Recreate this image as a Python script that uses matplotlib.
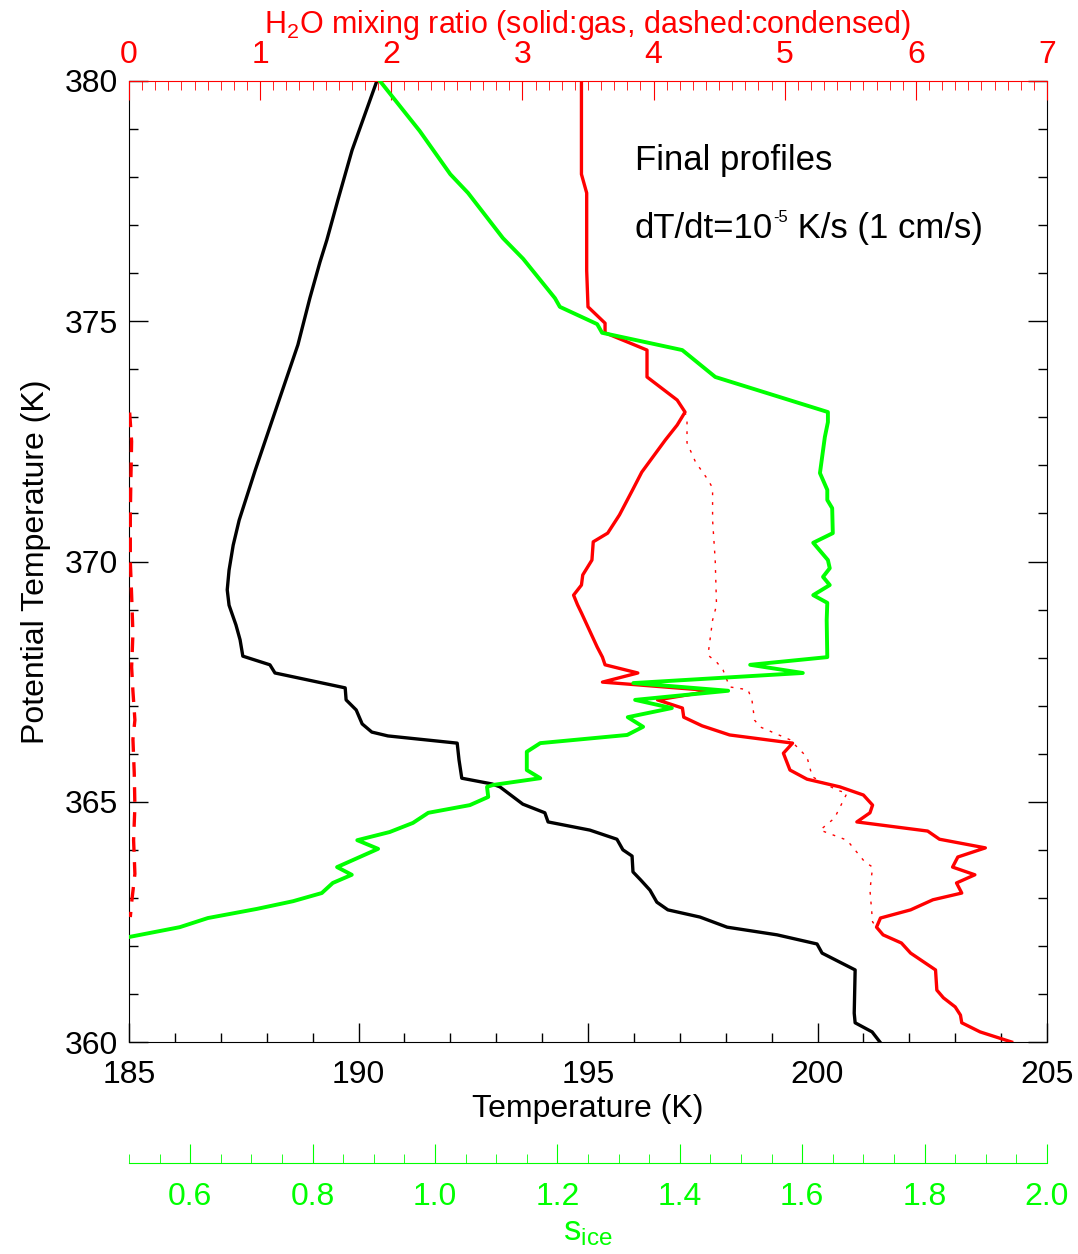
import matplotlib
matplotlib.use("Agg")
import matplotlib.pyplot as plt
from matplotlib.ticker import MultipleLocator

plt.rcParams['font.family'] = ['Liberation Sans', 'DejaVu Sans']
plt.rcParams['mathtext.fontset'] = 'custom'
plt.rcParams['mathtext.rm'] = 'Liberation Sans'
plt.rcParams['mathtext.it'] = 'Liberation Sans:italic'

# temperature profile (bottom axis, K)
temp_theta = [380.00, 379.60, 378.56, 377.52, 376.69, 376.23, 375.48, 374.51, 372.94, 371.90,
              370.86, 370.34, 369.82, 369.41, 369.09, 368.68, 368.37, 368.03, 367.85, 367.68,
              367.37, 367.12, 366.91, 366.62, 366.45, 366.37, 366.22, 365.87, 365.49, 365.37,
              365.31, 364.95, 364.77, 364.58, 364.41, 364.22, 364.00, 363.87, 363.54, 363.37,
              363.16, 362.91, 362.75, 362.60, 362.39, 362.23, 362.04, 361.85, 361.66, 361.50,
              360.60, 360.40, 360.21, 360.00]
temp_K = [190.40, 190.25, 189.86, 189.55, 189.31, 189.16, 188.94, 188.68, 188.12, 187.75,
          187.40, 187.27, 187.18, 187.14, 187.18, 187.33, 187.42, 187.48, 188.07, 188.18,
          189.71, 189.73, 189.95, 190.08, 190.29, 190.64, 192.15, 192.19, 192.25, 192.91,
          193.08, 193.58, 194.06, 194.13, 195.04, 195.63, 195.76, 195.96, 195.98, 196.15,
          196.35, 196.50, 196.74, 197.44, 198.03, 199.12, 199.99, 200.10, 200.49, 200.82,
          200.80, 200.82, 201.19, 201.36]

# H2O gas mixing ratio (top axis)
gas_theta = [380.00, 378.06, 377.67, 376.05, 375.30, 374.96, 374.76, 374.40, 373.84, 373.36,
             373.11, 372.84, 372.53, 371.86, 371.49, 370.97, 370.59, 370.41, 370.03, 369.72,
             369.51, 369.30, 369.10, 368.93, 368.22, 368.01, 367.85, 367.68, 367.49, 367.31,
             367.12, 366.95, 366.76, 366.58, 366.39, 366.22, 366.01, 365.66, 365.47, 365.31,
             365.14, 364.93, 364.77, 364.58, 364.39, 364.22, 364.04, 363.85, 363.64, 363.48,
             363.31, 363.10, 362.96, 362.75, 362.58, 362.39, 362.23, 362.06, 361.85, 361.50,
             361.08, 360.92, 360.73, 360.56, 360.40, 360.21, 360.00]
gas_w = [3.45, 3.45, 3.49, 3.49, 3.50, 3.63, 3.63, 3.95, 3.95, 4.18,
         4.24, 4.18, 4.09, 3.91, 3.84, 3.74, 3.65, 3.54, 3.53, 3.46,
         3.45, 3.39, 3.42, 3.45, 3.57, 3.61, 3.63, 3.88, 3.61, 4.45,
         4.03, 4.22, 4.23, 4.37, 4.58, 5.06, 4.99, 5.04, 5.17, 5.42,
         5.60, 5.67, 5.65, 5.55, 6.09, 6.18, 6.53, 6.32, 6.28, 6.45,
         6.31, 6.35, 6.13, 5.96, 5.73, 5.70, 5.75, 5.89, 5.96, 6.15,
         6.16, 6.21, 6.30, 6.34, 6.35, 6.49, 6.73]

# dotted red line
total_theta = [373.11, 372.94, 372.47, 372.07, 371.70, 371.53, 370.86, 370.03, 369.09, 368.78,
               368.05, 367.91, 367.74, 367.39, 367.33, 367.12, 366.70, 366.56, 366.29, 365.93,
               365.52, 365.24, 365.18, 364.66, 364.41, 364.20, 363.75, 363.64, 363.16, 362.50,
               362.39]
total_w = [4.24, 4.255, 4.255, 4.32, 4.415, 4.45, 4.45, 4.47, 4.48, 4.45,
           4.415, 4.48, 4.53, 4.58, 4.72, 4.75, 4.77, 4.81, 5.04, 5.17,
           5.21, 5.40, 5.475, 5.38, 5.27, 5.475, 5.61, 5.67, 5.65, 5.67,
           5.70]

# condensed water (dashed)
cond_theta = [373.1, 372.5, 371.8, 371.0, 370.0, 369.3, 368.5, 367.8, 367.3, 366.7,
              366.3, 365.6, 364.9, 364.2, 363.5, 362.9, 362.6]
cond_w = [0.005, 0.02, 0.015, 0.01, 0.01, 0.02, 0.03, 0.02, 0.03, 0.045,
          0.03, 0.04, 0.045, 0.035, 0.045, 0.02, 0.01]

# ice saturation ratio (green axis)
sice_theta = [380.00, 378.96, 378.06, 377.67, 376.73, 376.30, 375.48, 375.30, 374.94, 374.76,
              374.40, 373.84, 373.11, 372.90, 372.59, 371.84, 371.49, 371.28, 371.11, 370.59,
              370.39, 370.03, 369.86, 369.68, 369.51, 369.30, 369.14, 368.78, 368.01, 367.85,
              367.68, 367.47, 367.31, 367.12, 366.95, 366.76, 366.56, 366.39, 366.22, 366.04,
              365.66, 365.49, 365.35, 365.31, 365.10, 364.93, 364.77, 364.56, 364.37, 364.20,
              364.02, 363.64, 363.48, 363.31, 363.10, 362.93, 362.77, 362.58, 362.39, 362.19]
sice = [0.910, 0.975, 1.025, 1.054, 1.111, 1.144, 1.196, 1.204, 1.265, 1.273,
        1.404, 1.458, 1.642, 1.642, 1.637, 1.629, 1.641, 1.641, 1.649, 1.650,
        1.618, 1.642, 1.645, 1.634, 1.645, 1.618, 1.641, 1.640, 1.641, 1.515,
        1.601, 1.324, 1.479, 1.327, 1.387, 1.315, 1.340, 1.314, 1.172, 1.150,
        1.150, 1.172, 1.095, 1.085, 1.087, 1.057, 0.989, 0.964, 0.926, 0.873,
        0.907, 0.840, 0.864, 0.833, 0.815, 0.768, 0.709, 0.629, 0.583, 0.502]

FS = 23
RED = '#ff0000'
GREEN = '#00ff00'

fig = plt.figure(figsize=(10.78, 12.54), dpi=100)
ax = fig.add_axes([129 / 1078, 1 - 1042 / 1254, 918 / 1078, 961 / 1254])

ax.plot(temp_K, temp_theta, color='black', lw=2.4)
ax.set_xlim(185, 205)
ax.set_ylim(360, 380)
ax.xaxis.set_major_locator(MultipleLocator(5))
ax.xaxis.set_minor_locator(MultipleLocator(1))
ax.yaxis.set_major_locator(MultipleLocator(5))
ax.yaxis.set_minor_locator(MultipleLocator(1))
ax.tick_params(which='both', direction='in', top=False, right=True, labelsize=FS, width=1)
ax.tick_params(which='major', length=13.5)
ax.tick_params(which='minor', length=6.8)
ax.tick_params(axis='x', pad=13)
ax.tick_params(axis='y', pad=8)
ax.spines['top'].set_visible(False)
ax.set_xlabel('Temperature (K)', fontsize=FS, labelpad=3)
ax.set_ylabel('Potential Temperature (K)', fontsize=FS, labelpad=10)

# annotation, with a small IDL-like superscript
ax.text(0.551, 0.907, 'Final profiles', transform=ax.transAxes, fontsize=25, va='baseline')
t1 = ax.text(0.551, 0.829, 'dT/dt=10', transform=ax.transAxes, fontsize=25, va='bottom')
t2 = ax.annotate('-5', xy=(1, 0.62), xycoords=t1, fontsize=12, va='bottom', ha='left')
ax.annotate(' K/s (1 cm/s)', xy=(1, 0), xycoords=(t2, t1), fontsize=25, va='bottom', ha='left')

# water vapour axis on top
ax2 = ax.twiny()
ax2.plot(gas_w, gas_theta, color=RED, lw=2.4)
ax2.plot(total_w, total_theta, color=RED, lw=1, linestyle=(0, (2, 5)))
ax2.plot(cond_w, cond_theta, color=RED, lw=2.4, linestyle=(0, (4.4, 3.1)))
ax2.set_xlim(0, 7)
ax2.set_ylim(360, 380)
ax2.xaxis.set_major_locator(MultipleLocator(1))
ax2.xaxis.set_minor_locator(MultipleLocator(0.1))
ax2.tick_params(which='both', direction='in', colors=RED, labelsize=FS, pad=8)
ax2.tick_params(which='major', length=13.5)
ax2.tick_params(which='minor', length=6.8)
for s in ['left', 'right', 'bottom']:
    ax2.spines[s].set_visible(False)
ax2.spines['top'].set_color(RED)
ax2.set_xlabel(r'H$_\mathrm{2}$O mixing ratio (solid:gas, dashed:condensed)', color=RED,
               fontsize=FS - 1, labelpad=5)

# ice saturation axis below
ax3 = ax.twiny()
ax3.plot(sice, sice_theta, color=GREEN, lw=2.8)
ax3.set_xlim(0.5, 2.0)
ax3.set_ylim(360, 380)
ax3.xaxis.set_ticks_position('bottom')
ax3.xaxis.set_label_position('bottom')
for s in ['left', 'right', 'top']:
    ax3.spines[s].set_visible(False)
ax3.spines['bottom'].set_position(('outward', 121 * 72 / 100))
ax3.spines['bottom'].set_color(GREEN)
ax3.xaxis.set_major_locator(MultipleLocator(0.2))
ax3.xaxis.set_minor_locator(MultipleLocator(0.05))
ax3.xaxis.set_major_formatter('{x:.1f}')
ax3.tick_params(which='both', direction='in', colors=GREEN, labelsize=FS, pad=14)
ax3.tick_params(which='major', length=13.5)
ax3.tick_params(which='minor', length=6.8)
ax3.set_xlabel(r's$_\mathrm{ice}$', color=GREEN, fontsize=FS + 2, labelpad=2)

fig.savefig('out.png', dpi=100)
